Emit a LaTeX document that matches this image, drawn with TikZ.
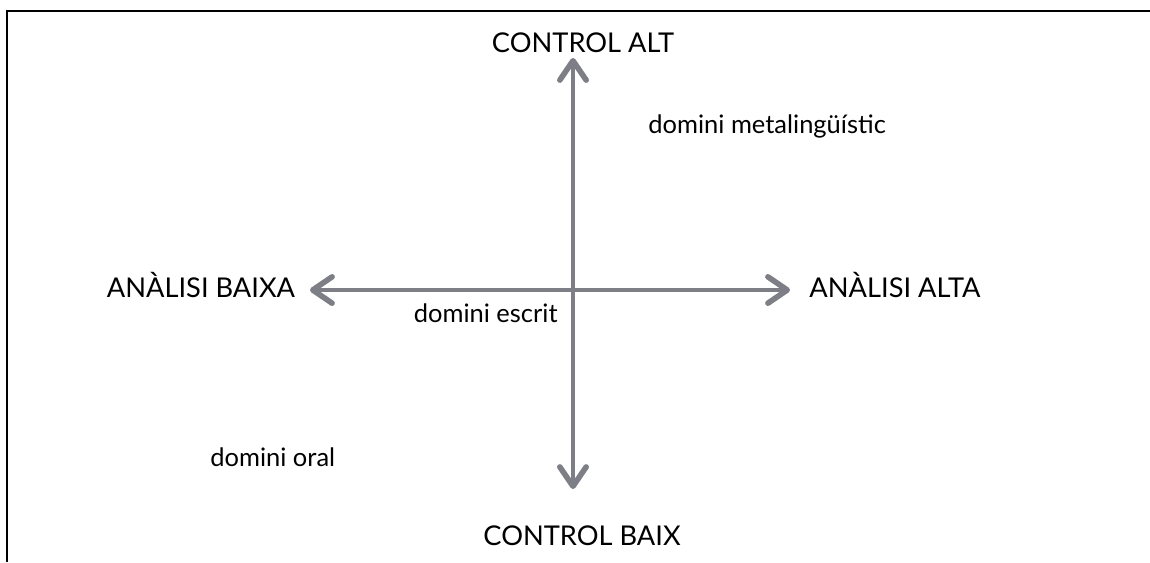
\documentclass[tikz,border=0pt]{standalone}
\usepackage{fontspec}
\setmainfont{Lato}
\usetikzlibrary{arrows.meta}

\definecolor{axisgray}{RGB}{126,127,134}

\tikzset{
  barb/.tip={Straight Barb[length=11pt,width=15pt,line width=0.11cm,round]},
  axis/.style={draw=axisgray, line width=0.08cm, barb-barb},
  axisshadow/.style={axis, draw=black, opacity=0.15, shift={(1.5,3)}},
  pole/.style={anchor=base, inner sep=0pt, font=\fontsize{15.5}{18}\selectfont},
  zone/.style={inner sep=0pt, font=\fontsize{14.5}{17}\selectfont}
}

\begin{document}
\begin{tikzpicture}[x=0.02cm, y=-0.02cm]

    \useasboundingbox (0,0) rectangle (1150,562);

    \draw[line width=0.05cm] (7,562) -- (7,11) -- (1150,11);

    \coordinate (up) at (573,58);
    \coordinate (down) at (573,489);
    \coordinate (left) at (310,290);
    \coordinate (right) at (790,290);

    \draw[axisshadow] (left) -- (right);
    \draw[axisshadow] (up) -- (down);

    \draw[axis] (left) -- (right);
    \draw[axis] (up) -- (down);

    \node[pole] (ctrlalt) at (583,52) {CONTROL ALT};
    \node[pole] (ctrlbaix) at (582,545) {CONTROL BAIX};
    \node[pole] (anbaixa) at (201,297) {ANÀLISI BAIXA};
    \node[pole] (analta) at (895,297) {ANÀLISI ALTA};

    \node[zone, anchor=base west] (meta) at (648,133) {domini metalingüístic};
    \node[zone, anchor=base east] (escrit) at (558,322) {domini escrit};
    \node[zone, anchor=base west] (oral) at (210,466) {domini oral};

\end{tikzpicture}
\end{document}
